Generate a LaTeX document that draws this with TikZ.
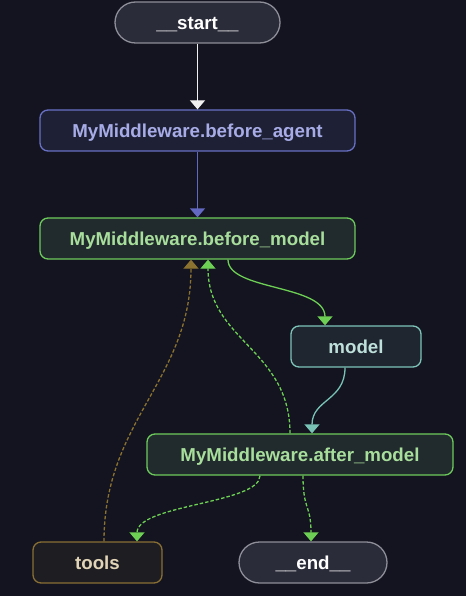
\documentclass[tikz,border=0pt]{standalone}
\usepackage{fontspec}
\setmainfont{Liberation Sans}
\usetikzlibrary{arrows.meta}
\definecolor{bg}{HTML}{13141F}
\definecolor{termfill}{HTML}{2B2C3A}
\definecolor{termdraw}{HTML}{8E8E99}
\definecolor{agfill}{HTML}{1E2036}
\definecolor{agdraw}{HTML}{6870C4}
\definecolor{agtext}{HTML}{A7ACE6}
\definecolor{grfill}{HTML}{212A2C}
\definecolor{grdraw}{HTML}{6DCB5C}
\definecolor{grtext}{HTML}{A8DE9C}
\definecolor{mofill}{HTML}{1F2630}
\definecolor{modraw}{HTML}{7EC4B9}
\definecolor{motext}{HTML}{BFE0DA}
\definecolor{tofill}{HTML}{1E1D22}
\definecolor{todraw}{HTML}{8A6F35}
\definecolor{totext}{HTML}{E2D5B7}
\definecolor{brarrow}{HTML}{8C7230}
\definecolor{grarrow}{HTML}{6ECF55}
\definecolor{tearrow}{HTML}{78C2B6}
\definecolor{blarrow}{HTML}{6368C2}
\definecolor{wharrow}{HTML}{F0F0F0}
\tikzset{
  base/.style={line width=1.3pt, minimum height=41pt, inner sep=0pt,
    text height=13.4pt, text depth=0pt,
    font=\fontsize{18.7}{20}\selectfont\bfseries},
  term/.style={base, rounded corners=20.5pt, fill=termfill, draw=termdraw, text=white},
  agbox/.style={base, rounded corners=8pt, fill=agfill, draw=agdraw, text=agtext},
  grbox/.style={base, rounded corners=8pt, fill=grfill, draw=grdraw, text=grtext},
  mobox/.style={base, rounded corners=8pt, fill=mofill, draw=modraw, text=motext},
  tobox/.style={base, rounded corners=8pt, fill=tofill, draw=todraw, text=totext},
  conn/.style={line width=1.3pt, -{Triangle[length=9pt,width=15pt]}},
  dashconn/.style={conn, dash pattern=on 3.5pt off 2pt},
}
\begin{document}
\begin{tikzpicture}[x=1pt,y=-1pt]
\fill[bg] (0,0) rectangle (466,596);
\useasboundingbox (0,0) rectangle (466,596);

\node[term, minimum width=165pt] (start) at (197.5,22.5) {\_\_start\_\_};
\node[agbox, minimum width=315pt] (ba) at (197.5,130.5) {MyMiddleware.before\_agent};
\node[grbox, minimum width=315pt] (bm) at (197.5,238.5) {MyMiddleware.before\_model};
\node[mobox, minimum width=130pt] (model) at (356,346.5) {model};
\node[grbox, minimum width=306pt] (am) at (300,454.5) {MyMiddleware.after\_model};
\node[tobox, minimum width=129pt] (tools) at (97.5,562.5) {tools};
\node[term, minimum width=148pt] (end) at (313,562.5) {\_\_end\_\_};

\draw[conn, wharrow] (start) -- (ba);
\draw[conn, blarrow] (ba) -- (bm);
\draw[conn, grarrow] ([xshift=30.5pt]bm.south) .. controls ([xshift=30.5pt,yshift=-31pt]bm.south) and ([xshift=-31pt,yshift=41pt]model.north) .. ([xshift=-31pt]model.north);
\draw[conn, tearrow] ([xshift=-11pt]model.south) .. controls ([xshift=-11pt,yshift=-33pt]model.south) and ([xshift=12pt,yshift=34pt]am.north) .. ([xshift=12pt]am.north);
\draw[dashconn, grarrow] ([xshift=-10pt]am.north) .. controls ([xshift=-10pt,yshift=84pt]am.north) and ([xshift=10.5pt,yshift=-81pt]bm.south) .. ([xshift=10.5pt]bm.south);
\draw[dashconn, brarrow] ([xshift=6.5pt]tools.north) .. controls ([xshift=6.5pt,yshift=122pt]tools.north) and ([xshift=-6.5pt,yshift=-121pt]bm.south) .. ([xshift=-6.5pt]bm.south);
\draw[dashconn, grarrow] ([xshift=-40pt]am.south) .. controls ([xshift=-40pt,yshift=-28pt]am.south) and ([xshift=39.5pt,yshift=37pt]tools.north) .. ([xshift=39.5pt]tools.north);
\draw[dashconn, grarrow] ([xshift=3pt]am.south) .. controls ([xshift=3pt,yshift=-35pt]am.south) and ([xshift=-2pt,yshift=37pt]end.north) .. ([xshift=-2pt]end.north);
\end{tikzpicture}
\end{document}
